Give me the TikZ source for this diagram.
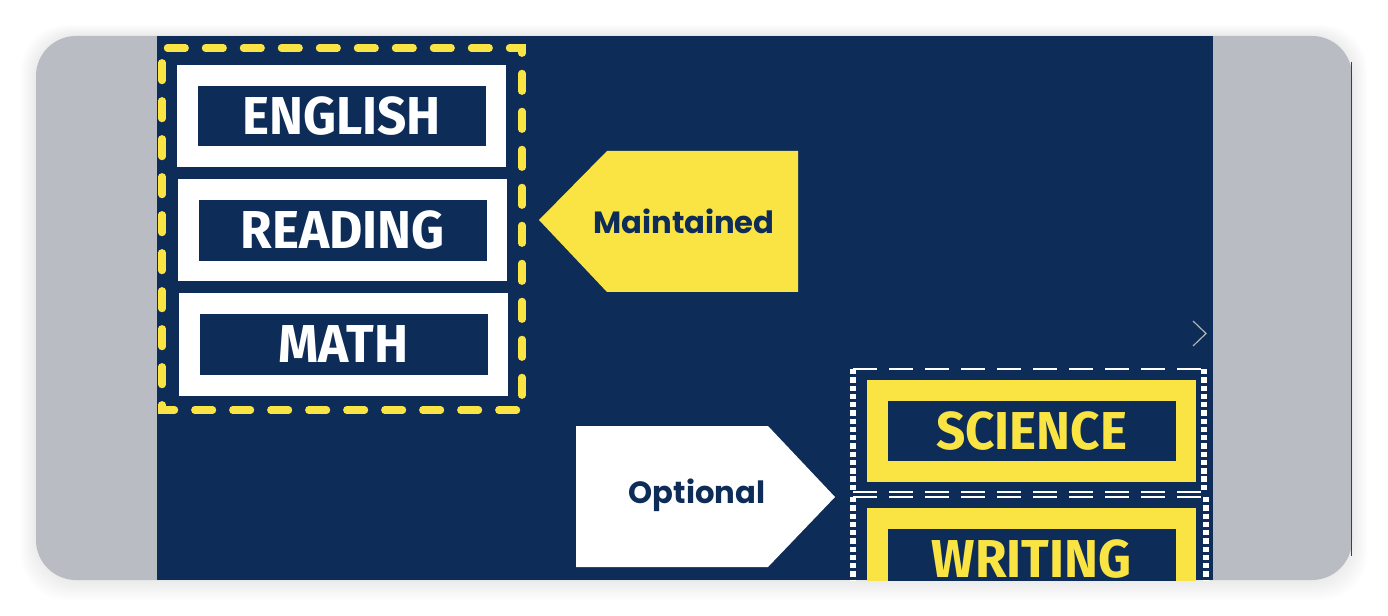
\documentclass[tikz,border=0pt]{standalone}
\usepackage{fontspec}
\newfontfamily\boxfont{Fira Sans}
\newfontfamily\labfont{Poppins}
\definecolor{navy}{HTML}{0E2C58}
\definecolor{ylw}{HTML}{F9E444}
\definecolor{framegray}{HTML}{B9BCC3}
\tikzset{
  subjbox/.style={fill=navy, draw=#1, line width=15.4pt, minimum width=231.4pt, minimum height=61.1pt, inner sep=0pt},
  subjtext/.style={text=#1, font=\boxfont\bfseries\fontsize{40}{40}\selectfont},
  tagtext/.style={text=navy, font=\labfont\bfseries\fontsize{23}{23}\selectfont},
  whitedash/.style={white, line width=2.2pt, dash pattern=on 18pt off 9pt},
  whitedot/.style={white, line width=4pt, dash pattern=on 4pt off 2.2pt},
}
\newcommand\cond[1]{\scalebox{0.96}[1]{#1}}
\begin{document}
\begin{tikzpicture}[x=0.75pt,y=-0.75pt]
\useasboundingbox (0,0) rectangle (1388,616);
\fill[white] (0,0) rectangle (1388,616);
% soft shadow
\foreach \i in {1,...,10}{
  \fill[black,opacity=0.009,rounded corners=34pt] (36-\i*1.5,36-\i*1.1) rectangle (1352+\i*1.5,580+\i*2);
}
\fill[framegray, rounded corners=30pt] (36,36) rectangle (1352,580);
\draw[black!75, line width=1.2pt] (1351.5,62) -- (1351.5,556);
\fill[navy] (157,36) rectangle (1213,580);

% yellow dashed group frame
\draw[ylw, line width=5.3pt, line cap=round, dash pattern=on 13.5pt off 15pt, dash phase=-4pt] (162,48) -- (522,48) -- (522,410) -- (162,410) -- cycle;

% left subject boxes
\node[subjbox=white] (english) at (341.5,116) {};
\node[subjtext=white] (englishT) at (english.center) {\cond{ENGLISH}};
\node[subjbox=white] (reading) at (342.5,230.5) {};
\node[subjtext=white] (readingT) at (reading.center) {\cond{READING}};
\node[subjbox=white] (math) at (343.5,344.5) {};
\node[subjtext=white] (mathT) at (math.center) {\cond{MATH}};

% tags
\fill[ylw] (539,220) -- (607,151) -- (798,151) -- (798,292) -- (607,292) -- cycle;
\node[tagtext] (maint) at (684,221) {Maintained};
\fill[white] (576,426) -- (768,426) -- (835,497) -- (768,567) -- (576,567) -- cycle;
\node[tagtext] (opt) at (697,495) {Optional};

% chevron
\draw[gray!60, line width=0.9pt] (1193,321) -- (1206,333.5) -- (1193,346);

\begin{scope}
\clip (157,36) rectangle (1213,580);
% science
\draw[whitedash] (853,369) -- (1205,369);
\draw[whitedash] (853,492) -- (1205,492);
\draw[whitedot] (853,369) -- (853,492);
\draw[whitedot] (1204,369) -- (1204,492);
\node[subjbox=ylw] (science) at (1031.5,431) {};
\node[subjtext=ylw] (scienceT) at (science.center) {\cond{SCIENCE}};
% writing
\draw[whitedash] (853,497) -- (1207,497);
\draw[whitedot] (853,497) -- (853,600);
\draw[whitedot] (1206,497) -- (1206,600);
\node[subjbox=ylw] (writing) at (1031.5,559) {};
\node[subjtext=ylw] (writingT) at (writing.center) {\cond{WRITING}};
\end{scope}
\end{tikzpicture}
\end{document}
